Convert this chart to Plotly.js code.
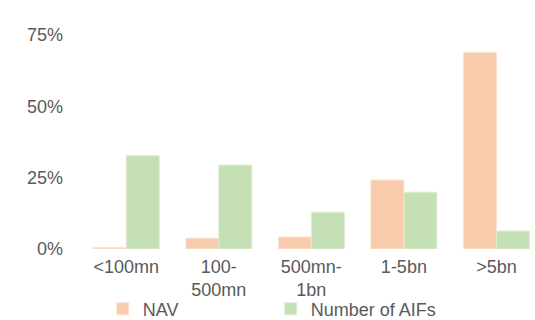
<!DOCTYPE html>
<html>
<head>
<meta charset="utf-8">
<script src="https://cdn.plot.ly/plotly-3.0.1.min.js"></script>
<style>html,body{margin:0;padding:0;background:#fff;}#chart{width:535px;height:320px;}</style>
</head>
<body>
<div id="chart"></div>
<script>
const categories = ['<100mn', '100-<br>500mn', '500mn-<br>1bn', '1-5bn', '>5bn'];
const navValues = [0.5, 3.8, 4.2, 24.2, 68.9];
const aifValues = [32.7, 29.4, 12.9, 19.9, 6.3];
const yTickValues = [0, 25, 50, 75];
const yTickLabels = ['0%', '25%', '50%', '75%'];

const font = {family: 'Liberation Sans, Arial, sans-serif', size: 18, color: '#595959'};

const traces = [
  {type: 'bar', name: 'NAV', x: categories, y: navValues,
   marker: {color: '#F8CBAD', line: {color: '#FBE3D3', width: 1}}, hoverinfo: 'none'},
  {type: 'bar', name: 'Number of AIFs', x: categories, y: aifValues,
   marker: {color: '#C5E0B4', line: {color: '#DDEDD2', width: 1}}, hoverinfo: 'none'}
];

const layout = {
  width: 535, height: 320,
  margin: {l: 80, r: 0, t: 35, b: 71},
  paper_bgcolor: '#fff', plot_bgcolor: '#fff',
  font: font,
  barmode: 'group', bargap: 0.287, bargroupgap: 0,
  showlegend: true,
  legend: {orientation: 'h', x: 0.05, xanchor: 'left', yref: 'container', y: 0.034, yanchor: 'middle',
           entrywidth: 123, entrywidthmode: 'pixels', font: font, traceorder: 'normal',
           bgcolor: 'rgba(0,0,0,0)'},
  xaxis: {type: 'category', range: [-0.5, 4.417], showgrid: false, zeroline: false,
          showline: false, ticks: '', tickfont: font, fixedrange: true, automargin: false,
          ticklabelstandoff: 5},
  yaxis: {range: [0, 75], tickvals: yTickValues, ticktext: yTickLabels, showgrid: false,
          zeroline: false, showline: false, ticks: '', tickfont: font, fixedrange: true,
          ticklabelstandoff: 16, automargin: false}
};

Plotly.newPlot('chart', traces, layout, {displayModeBar: false, staticPlot: true});
</script>
</body>
</html>
